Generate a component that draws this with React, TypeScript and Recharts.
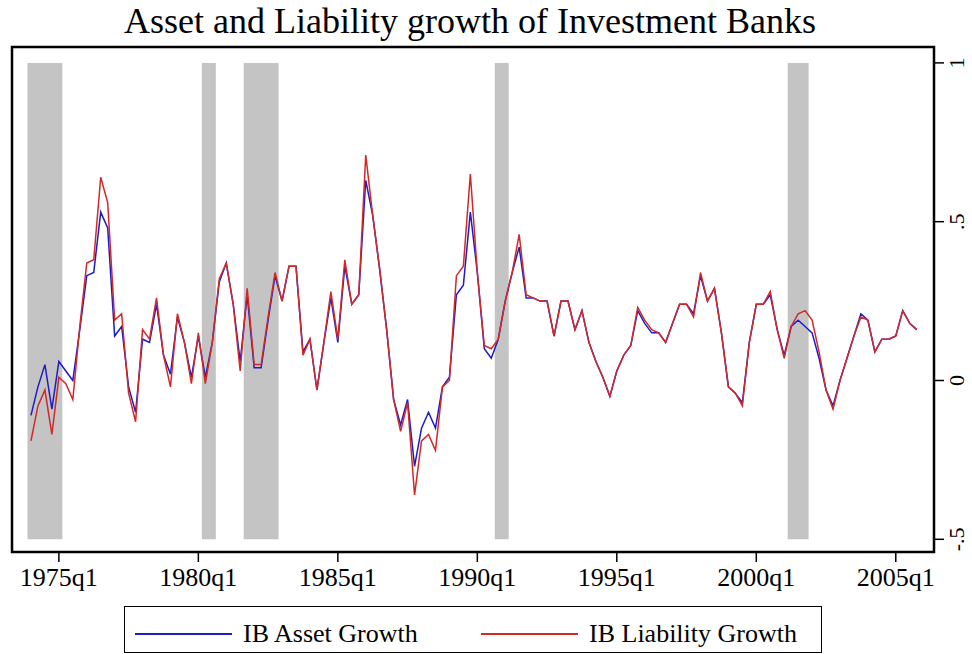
import React from "react";
import {
  ComposedChart,
  Line,
  XAxis,
  YAxis,
  ReferenceArea,
  Legend,
} from "recharts";

// Quarterly categories, 1974q1 .. 2005q4
const quarters: string[] = [
  "1974q1","1974q2","1974q3","1974q4","1975q1","1975q2","1975q3","1975q4",
  "1976q1","1976q2","1976q3","1976q4","1977q1","1977q2","1977q3","1977q4",
  "1978q1","1978q2","1978q3","1978q4","1979q1","1979q2","1979q3","1979q4",
  "1980q1","1980q2","1980q3","1980q4","1981q1","1981q2","1981q3","1981q4",
  "1982q1","1982q2","1982q3","1982q4","1983q1","1983q2","1983q3","1983q4",
  "1984q1","1984q2","1984q3","1984q4","1985q1","1985q2","1985q3","1985q4",
  "1986q1","1986q2","1986q3","1986q4","1987q1","1987q2","1987q3","1987q4",
  "1988q1","1988q2","1988q3","1988q4","1989q1","1989q2","1989q3","1989q4",
  "1990q1","1990q2","1990q3","1990q4","1991q1","1991q2","1991q3","1991q4",
  "1992q1","1992q2","1992q3","1992q4","1993q1","1993q2","1993q3","1993q4",
  "1994q1","1994q2","1994q3","1994q4","1995q1","1995q2","1995q3","1995q4",
  "1996q1","1996q2","1996q3","1996q4","1997q1","1997q2","1997q3","1997q4",
  "1998q1","1998q2","1998q3","1998q4","1999q1","1999q2","1999q3","1999q4",
  "2000q1","2000q2","2000q3","2000q4","2001q1","2001q2","2001q3","2001q4",
  "2002q1","2002q2","2002q3","2002q4","2003q1","2003q2","2003q3","2003q4",
  "2004q1","2004q2","2004q3","2004q4","2005q1","2005q2","2005q3","2005q4",
];

const assetGrowth: number[] = [
  -0.11, -0.02, 0.05, -0.09, 0.06, 0.03, 0.0, 0.16,
  0.33, 0.34, 0.53, 0.48, 0.14, 0.17, -0.02, -0.1,
  0.13, 0.12, 0.24, 0.08, 0.02, 0.2, 0.12, 0.01,
  0.14, 0.01, 0.12, 0.31, 0.37, 0.24, 0.06, 0.27,
  0.04, 0.04, 0.19, 0.33, 0.25, 0.36, 0.36, 0.09,
  0.13, -0.03, 0.12, 0.26, 0.12, 0.36, 0.24, 0.27,
  0.63, 0.52, 0.35, 0.16, -0.06, -0.14, -0.06, -0.27,
  -0.15, -0.1, -0.15, -0.02, 0.01, 0.27, 0.3, 0.53,
  0.34, 0.1, 0.07, 0.13, 0.25, 0.34, 0.42, 0.26,
  0.26, 0.25, 0.25, 0.14, 0.25, 0.25, 0.16, 0.22,
  0.12, 0.06, 0.01, -0.05, 0.03, 0.08, 0.11, 0.22,
  0.18, 0.15, 0.15, 0.12, 0.18, 0.24, 0.24, 0.21,
  0.33, 0.25, 0.29, 0.15, -0.02, -0.04, -0.07, 0.12,
  0.24, 0.24, 0.27, 0.16, 0.08, 0.17, 0.19, 0.17,
  0.15, 0.07, -0.03, -0.08, 0.0, 0.07, 0.14, 0.21,
  0.19, 0.09, 0.13, 0.13, 0.14, 0.22, 0.18, 0.16,
];

const liabilityGrowth: number[] = [
  -0.19, -0.08, -0.03, -0.17, 0.01, -0.01, -0.06, 0.17,
  0.37, 0.38, 0.64, 0.56, 0.19, 0.21, -0.04, -0.13,
  0.16, 0.13, 0.26, 0.08, -0.02, 0.21, 0.12, -0.01,
  0.15, -0.01, 0.12, 0.32, 0.37, 0.24, 0.03, 0.29,
  0.05, 0.05, 0.2, 0.34, 0.25, 0.36, 0.36, 0.08,
  0.13, -0.03, 0.12, 0.28, 0.13, 0.38, 0.24, 0.27,
  0.71, 0.52, 0.35, 0.16, -0.06, -0.16, -0.07, -0.36,
  -0.19, -0.17, -0.22, -0.02, 0.0, 0.33, 0.36, 0.65,
  0.34, 0.11, 0.1, 0.13, 0.25, 0.34, 0.46, 0.27,
  0.26, 0.25, 0.25, 0.14, 0.25, 0.25, 0.16, 0.22,
  0.12, 0.06, 0.01, -0.05, 0.03, 0.08, 0.11, 0.23,
  0.19, 0.16, 0.15, 0.12, 0.18, 0.24, 0.24, 0.2,
  0.34, 0.25, 0.29, 0.15, -0.02, -0.04, -0.08, 0.12,
  0.24, 0.24, 0.28, 0.16, 0.07, 0.17, 0.21, 0.22,
  0.19, 0.09, -0.03, -0.09, 0.0, 0.07, 0.14, 0.2,
  0.19, 0.09, 0.13, 0.13, 0.14, 0.22, 0.18, 0.16,
];

// Recession shading (first and last shaded quarter)
const recessionStart: string[] = ["1974q1", "1980q2", "1981q4", "1990q4", "2001q2"];
const recessionEnd: string[] = ["1975q1", "1980q3", "1982q4", "1991q1", "2001q4"];

const xTickLabels: string[] = ["1975q1", "1980q1", "1985q1", "1990q1", "1995q1", "2000q1", "2005q1"];
const yTickValues: number[] = [-0.5, 0, 0.5, 1];
const yTickLabels: string[] = ["-.5", "0", ".5", "1"];

const seriesNames: string[] = ["IB Asset Growth", "IB Liability Growth"];
const seriesColors: string[] = ["#1c1cc8", "#d22828"];

const title = "Asset and Liability growth of Investment Banks";

const toT = (q: string) => parseInt(q.slice(0, 4), 10) + (parseInt(q.slice(5), 10) - 1) / 4;

const data = quarters.map((q, i) => ({
  t: toT(q),
  asset: assetGrowth[i],
  liability: liabilityGrowth[i],
}));

const X_MIN = 1973.32;
const X_MAX = 2006.37;
const Y_MIN = -0.54;
const Y_MAX = 1.05;

const FONT = "'Liberation Serif', 'DejaVu Serif', serif";

const YTick = (props: any) => {
  const { x, y, payload } = props;
  const idx = yTickValues.indexOf(payload.value);
  const label = idx >= 0 ? yTickLabels[idx] : String(payload.value);
  const tx = x + 18;
  return (
    <text
      x={tx}
      y={y}
      transform={`rotate(-90, ${tx}, ${y})`}
      textAnchor="middle"
      fontFamily={FONT}
      fontSize={22}
      fill="#000"
    >
      {label}
    </text>
  );
};

const LegendBox = () => (
  <div
    style={{
      boxSizing: "border-box",
      width: 698,
      height: 47,
      border: "1.5px solid #000",
      background: "#fff",
      position: "relative",
      fontFamily: FONT,
      fontSize: 26,
      color: "#000",
    }}
  >
    {seriesNames.map((name, i) => {
      const left = i === 0 ? 10 : 356;
      return (
        <div key={name} style={{ position: "absolute", left, top: 0, height: 47, display: "flex", alignItems: "center" }}>
          <div style={{ width: 97, height: 0, borderTop: `2px solid ${seriesColors[i]}`, marginTop: 6 }} />
          <span style={{ marginLeft: 11, marginTop: 6, whiteSpace: "nowrap" }}>{name}</span>
        </div>
      );
    })}
  </div>
);

export default function App() {
  return (
    <div style={{ position: "absolute", left: 0, top: 0, width: 972, height: 654, background: "#fff" }}>
      <div
        style={{
          position: "absolute",
          left: 0,
          top: 1,
          width: 940,
          textAlign: "center",
          fontFamily: FONT,
          fontSize: 36,
          lineHeight: "40px",
          color: "#000",
          zIndex: 2,
        }}
      >
        {title}
      </div>
      <ComposedChart
        width={972}
        height={654}
        data={data}
        margin={{ top: 47, right: 0, bottom: 0, left: 12 }}
      >
        <XAxis
          dataKey="t"
          type="number"
          domain={[X_MIN, X_MAX]}
          allowDataOverflow
          ticks={xTickLabels.map(toT)}
          tickFormatter={(v: number) => {
            const idx = xTickLabels.map(toT).indexOf(v);
            return idx >= 0 ? xTickLabels[idx] : String(v);
          }}
          height={102}
          axisLine={false}
          tickLine={{ stroke: "#000", strokeWidth: 1.5 }}
          tickSize={10}
          tickMargin={6}
          tick={{ fill: "#000", fontSize: 26, fontFamily: FONT }}
        />
        <YAxis
          yAxisId="r"
          orientation="right"
          type="number"
          domain={[Y_MIN, Y_MAX]}
          allowDataOverflow
          ticks={yTickValues}
          width={38}
          axisLine={false}
          tickLine={{ stroke: "#000", strokeWidth: 1.5 }}
          tickSize={10}
          tickMargin={2}
          tick={<YTick />}
        />
        {recessionStart.map((s, i) => (
          <ReferenceArea
            key={s}
            yAxisId="r"
            x1={toT(s) - 0.125}
            x2={toT(recessionEnd[i]) + 0.125}
            y1={-0.5}
            y2={1}
            fill="#c4c4c4"
            fillOpacity={1}
            stroke="none"
          />
        ))}
        <Line
          yAxisId="r"
          type="linear"
          dataKey="asset"
          name={seriesNames[0]}
          stroke={seriesColors[0]}
          strokeWidth={1.5}
          dot={false}
          isAnimationActive={false}
        />
        <Line
          yAxisId="r"
          type="linear"
          dataKey="liability"
          name={seriesNames[1]}
          stroke={seriesColors[1]}
          strokeWidth={1.5}
          dot={false}
          isAnimationActive={false}
        />
        <ReferenceArea
          yAxisId="r"
          x1={X_MIN}
          x2={X_MAX}
          y1={Y_MIN}
          y2={Y_MAX}
          fill="none"
          stroke="#000"
          strokeWidth={2.5}
          ifOverflow="visible"
        />
        <Legend
          layout="horizontal"
          verticalAlign="middle"
          align="center"
          wrapperStyle={{ position: "absolute", left: 124, top: 606, width: 698, height: 47 }}
          content={() => <LegendBox />}
        />
      </ComposedChart>
    </div>
  );
}
